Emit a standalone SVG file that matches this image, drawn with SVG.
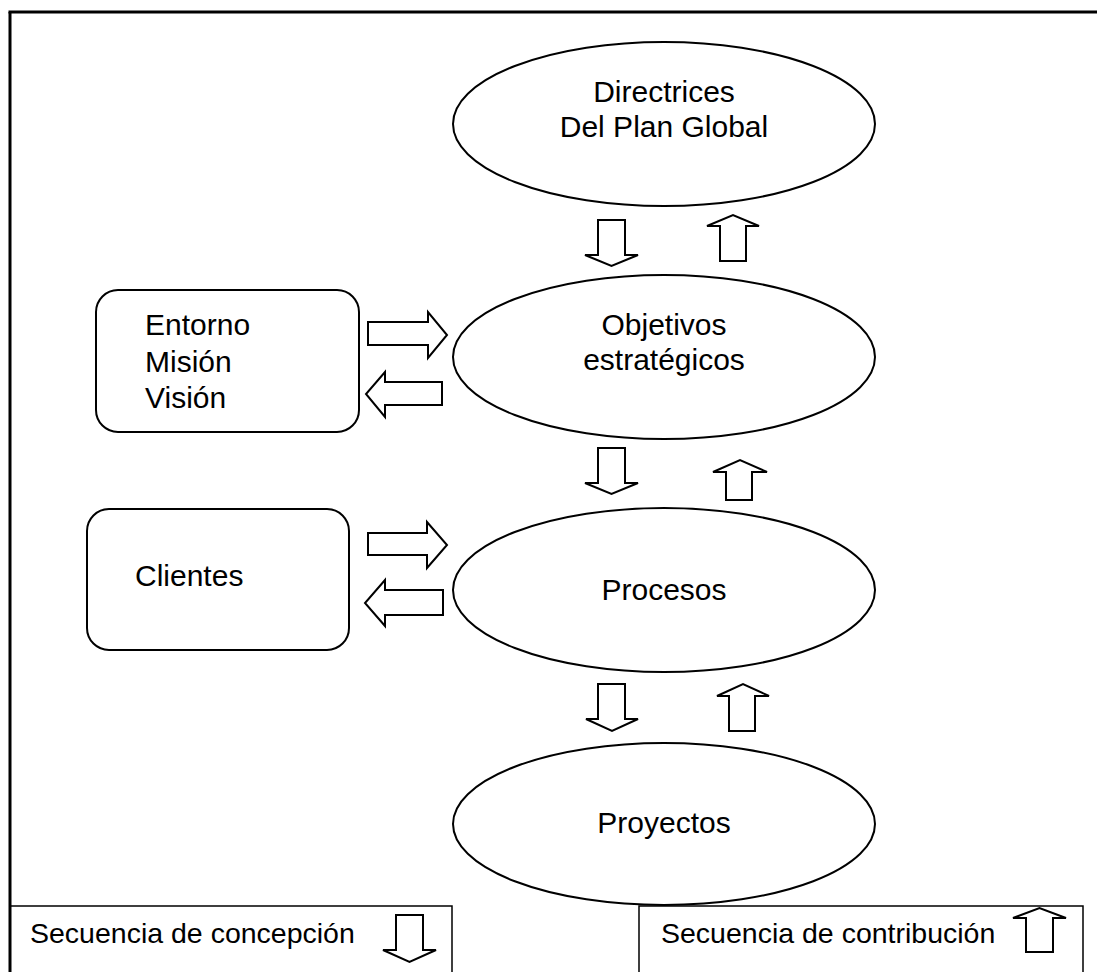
<svg xmlns="http://www.w3.org/2000/svg" width="1097" height="972" viewBox="0 0 1097 972">
  <style>
    .lbl { font-family: "Liberation Sans", Arial, sans-serif; font-size: 30px; fill: #000; }
    .leg { font-family: "Liberation Sans", Arial, sans-serif; font-size: 28.5px; fill: #000; }
    .ell { fill: #fff; stroke: #000; stroke-width: 2; }
    .box { fill: #fff; stroke: #000; stroke-width: 2; }
    .arr { fill: #fff; stroke: #000; stroke-width: 2; stroke-linejoin: miter; }
    .frame { fill: none; stroke: #000; stroke-width: 3; }
    .legbox { fill: none; stroke: #000; stroke-width: 1.5; }
  </style>
  <rect width="1097" height="972" fill="#fff"/>

  <!-- outer frame -->
  <g id="frame">
    <line class="frame" x1="8.5" y1="12" x2="1097" y2="12"/>
    <line class="frame" x1="10" y1="12" x2="10" y2="972"/>
  </g>

  <g id="directrices">
    <ellipse class="ell" cx="664" cy="124" rx="211" ry="82"/>
    <text class="lbl" x="664" y="102" text-anchor="middle">Directrices</text>
    <text class="lbl" x="664" y="137" text-anchor="middle">Del Plan Global</text>
  </g>

  <g id="objetivos">
    <ellipse class="ell" cx="664" cy="357" rx="211" ry="82"/>
    <text class="lbl" x="664" y="335" text-anchor="middle">Objetivos</text>
    <text class="lbl" x="664" y="370" text-anchor="middle">estratégicos</text>
  </g>

  <g id="procesos">
    <ellipse class="ell" cx="664" cy="590" rx="211" ry="82"/>
    <text class="lbl" x="664" y="600" text-anchor="middle">Procesos</text>
  </g>

  <g id="proyectos">
    <ellipse class="ell" cx="664" cy="824" rx="211" ry="81"/>
    <text class="lbl" x="664" y="833" text-anchor="middle">Proyectos</text>
  </g>

  <g id="entorno">
    <rect class="box" x="96" y="290" width="263" height="142" rx="22" ry="22"/>
    <text class="lbl" x="145" y="335">Entorno</text>
    <text class="lbl" x="145" y="372">Misión</text>
    <text class="lbl" x="145" y="408">Visión</text>
  </g>

  <g id="clientes">
    <rect class="box" x="87" y="509" width="262" height="141" rx="22" ry="22"/>
    <text class="lbl" x="135" y="586">Clientes</text>
  </g>

  <!-- block arrows between the levels -->
  <g id="connectors">
    <!-- Directrices / Objetivos -->
    <polygon class="arr" points="598,220 625,220 625,255 638,255 611.5,266 585,255 598,255"/>
    <polygon class="arr" points="720,261 746,261 746,226 759,226 733,215 707,226 720,226"/>
    <!-- Objetivos / Procesos -->
    <polygon class="arr" points="598,448 625,448 625,483 638,483 611.5,494 585,483 598,483"/>
    <polygon class="arr" points="726,500 752,500 752,472 767,472 740,460 713,472 726,472"/>
    <!-- Procesos / Proyectos -->
    <polygon class="arr" points="598,684 625,684 625,719 638,719 612,731 586,719 598,719"/>
    <polygon class="arr" points="729,731 755,731 755,696 769,696 743,684 717,696 729,696"/>
    <!-- Entorno / Objetivos -->
    <polygon class="arr" points="368,322 428,322 428,312 447,335 428,358 428,345 368,345"/>
    <polygon class="arr" points="442,382 385,382 385,372 366,394 385,417 385,405 442,405"/>
    <!-- Clientes / Procesos -->
    <polygon class="arr" points="368,533 427,533 427,522 447,545 427,568 427,555 368,555"/>
    <polygon class="arr" points="443,590 385,590 385,580 365,603 385,626 385,615 443,615"/>
  </g>

  <!-- legend boxes -->
  <g id="leyenda-concepcion">
    <polyline class="legbox" points="10,906 452,906 452,972"/>
    <text class="leg" x="30" y="943">Secuencia de concepción</text>
    <polygon class="arr" points="396,915 423,915 423,950 436,950 409.5,962 383,950 396,950"/>
  </g>

  <g id="leyenda-contribucion">
    <polyline class="legbox" points="639,972 639,906 1083,906 1083,972"/>
    <text class="leg" x="661" y="943">Secuencia de contribución</text>
    <polygon class="arr" points="1026,952 1053,952 1053,918 1066,918 1039.5,908 1013,918 1026,918"/>
  </g>
</svg>
